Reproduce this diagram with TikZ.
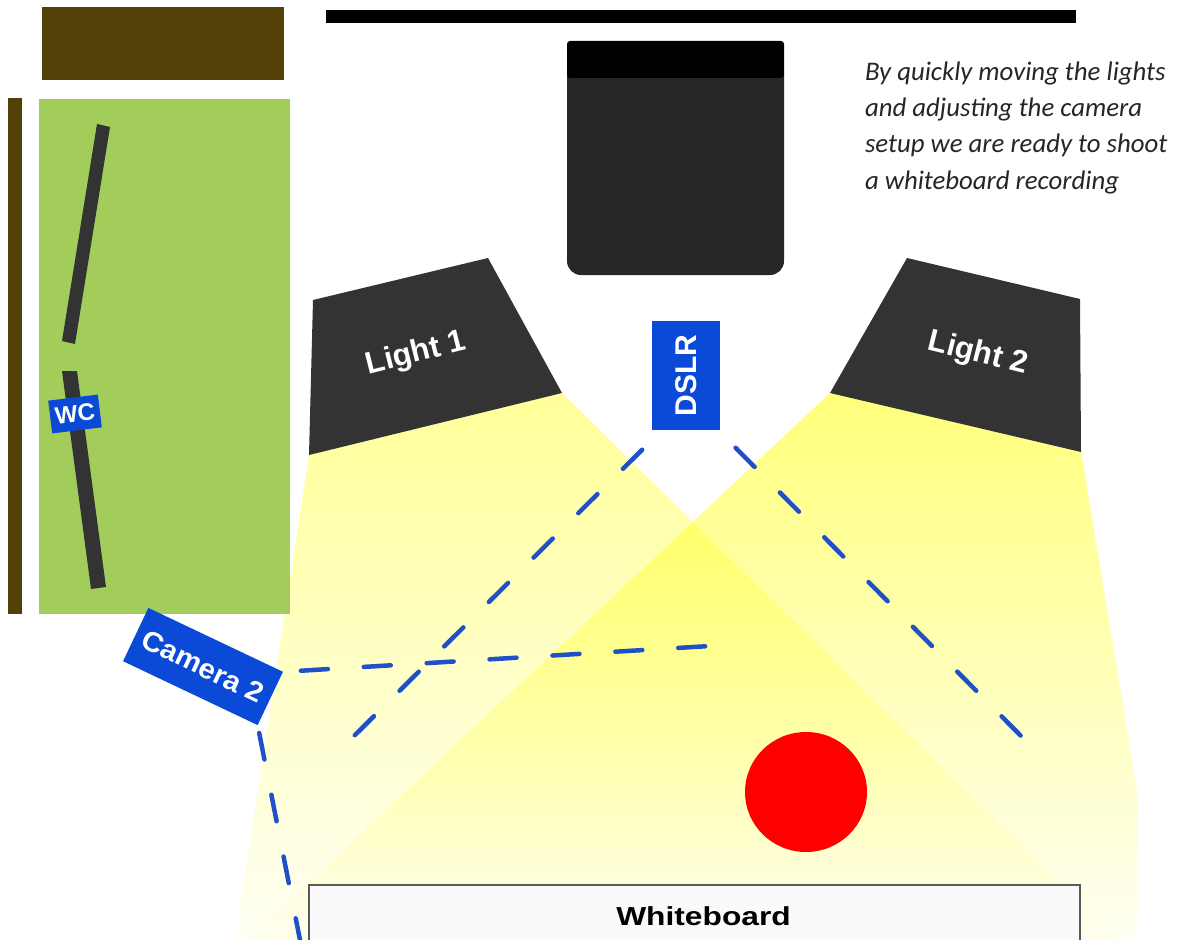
\documentclass[tikz,border=0pt]{standalone}
\usepackage{fontspec}
\setmainfont{Liberation Sans}
\newfontfamily\notefont{Carlito}
\usetikzlibrary{positioning,shapes.geometric}
\definecolor{wood_c}{HTML}{534108}
\definecolor{grass_c}{HTML}{A2CD5A}
\definecolor{lamp_c}{HTML}{333333}
\definecolor{body_c}{HTML}{262626}
\definecolor{tag_c}{HTML}{0B4AD6}
\definecolor{shot_c}{HTML}{1F50C8}
\tikzset{
  solid_n/.style = {inner sep=0pt, outer sep=0pt},
  tag_n/.style = {solid_n, fill=tag_c, text=white, align=center},% blue label
  lamp_t/.style = {solid_n, text=white, font=\bfseries\fontsize{31}{31}\selectfont},% text on a lamp
  shot_l/.style = {shot_c, line width=4.5pt, line cap=round, dash pattern=on 27pt off 36pt},% line of sight
  note_t/.style = {solid_n, anchor=base west, font=\notefont\itshape\fontsize{26.8}{26.8}\selectfont,
    text=black!85}
}
\begin{document}
\begin{tikzpicture}[x=1pt,y=-1pt]
\clip (0,0) rectangle (1177,939);
\fill[white] (0,0) rectangle (1177,939);
% light beams
\shade[top color=yellow!40!white, middle color=yellow!21!white, bottom color=yellow!3!white]
  (309,455) -- (562,393) -- (1137,960) -- (232,960) -- cycle;
\shade[top color=yellow!52!white, middle color=yellow!22!white, bottom color=yellow!3!white]
  (1081,452) -- (830,393) -- (226,960) -- (1137,960) -- (1137,790) -- cycle;
\shade[top color=yellow!28!white, middle color=white, bottom color=white, blend mode=multiply]
  (693,522) -- (1137,960) -- (226,960) -- cycle;
% room
\fill[wood_c] (42,7) rectangle (284,80);
\fill[wood_c] (8,98) rectangle (22,614);
\fill[grass_c] (39,99) rectangle (290,614);
\fill[lamp_c] (97,124) -- (110,127) -- (75,344) -- (62,341) -- cycle;
\fill[lamp_c] (62,371) -- (77,371) -- (106,587) -- (91,589) -- cycle;
\fill[black] (326,10) rectangle (1076,23);
% camera body
\fill[body_c, rounded corners=14pt] (567,60) -- (567,275) -- (784,275) -- (784,60) -- cycle;
\fill[black, rounded corners=3pt] (567,78) -- (567,41) -- (784,41) -- (784,78) -- cycle;
% lights
\fill[lamp_c] (313,300) -- (488,258) -- (562,393) -- (309,455) -- cycle;
\fill[lamp_c] (907,258) -- (1080,299) -- (1081,452) -- (830,393) -- cycle;
\node [lamp_t, rotate=14] (light_a) at (416,354) {Light 1};
\node [lamp_t, rotate=-14] (light_b) at (978,354) {Light 2};
% cameras
\node [tag_n, minimum width=68pt, minimum height=109pt] (dslr) at (686,375.5)
  {\rotatebox{90}{\bfseries\fontsize{30}{30}\selectfont DSLR}};
\node [tag_n, rotate=-25.4, minimum width=149pt, minimum height=59pt, font=\bfseries\fontsize{28}{28}\selectfont]
  (cam_b) at (203,666.5) {\scalebox{1.05}[1]{Camera 2}};
\node [tag_n, rotate=7, minimum width=50pt, minimum height=33pt, font=\bfseries\fontsize{24}{24}\selectfont]
  (cam_w) at (75,414) {WC};
\coordinate (end_a) at (350,740);
\coordinate (end_b) at (1025,740);
\coordinate (end_c) at (710,646);
\coordinate (end_d) at (301,945);
\draw[shot_l, shorten <=28pt] ([xshift=10pt]dslr.south west) -- (end_a);
\draw[shot_l, shorten <=25pt] ([xshift=-2pt]dslr.south east) -- (end_b);
\draw[shot_l, shorten <=18pt] (cam_b.north east) -- (end_c);
\draw[shot_l, shorten <=8pt] (cam_b.south east) -- (end_d);
% subject and board
\node [solid_n, ellipse, fill=red, minimum width=122pt, minimum height=120pt] (person) at (806,792) {};
\node [solid_n, draw=black!65, line width=1.2pt, fill=black!2, anchor=north west,
  minimum width=771pt, minimum height=90pt] (board) at (309,885) {};
\node [solid_n, font=\bfseries\fontsize{26}{26}\selectfont, below=22pt of board.north, xshift=9pt]
  (board_t) {\scalebox{1.22}[1]{Whiteboard}};
% note
\node [note_t] (note_a) at (865,81) {By quickly moving the lights};
\node [note_t] (note_b) at (865,117) {and adjusting the camera};
\node [note_t] (note_c) at (865,153) {setup we are ready to shoot};
\node [note_t] (note_d) at (865,189) {a whiteboard recording};
\end{tikzpicture}
\end{document}
